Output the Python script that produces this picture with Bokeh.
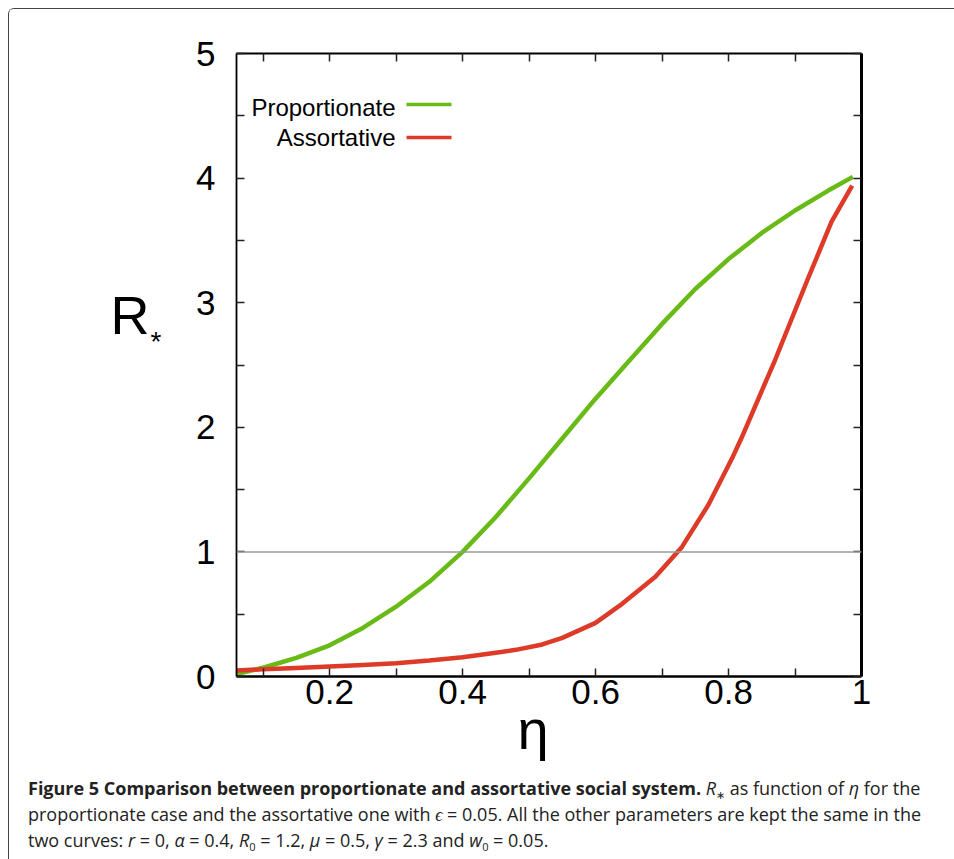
from bokeh.plotting import figure
from bokeh.models import (Range1d, LinearAxis, FixedTicker, Label, Span, Div)
from bokeh.layouts import column
from bokeh.embed import file_html
from bokeh.resources import INLINE

# ---- data ----
prop_eta = [0.06, 0.10, 0.15, 0.20, 0.25, 0.30, 0.35, 0.40, 0.45, 0.50,
            0.55, 0.60, 0.65, 0.70, 0.75, 0.80, 0.85, 0.90, 0.95, 0.987]
proportionate = [0.02, 0.07, 0.15, 0.25, 0.39, 0.56, 0.76, 1.00, 1.28, 1.59,
                 1.91, 2.23, 2.53, 2.83, 3.11, 3.35, 3.56, 3.74, 3.90, 4.01]
asso_eta = [0.06, 0.10, 0.15, 0.20, 0.25, 0.30, 0.35, 0.40, 0.45, 0.48, 0.52,
            0.55, 0.60, 0.64, 0.69, 0.73, 0.77, 0.805, 0.82, 0.87, 0.92, 0.955, 0.986]
assortative = [0.048, 0.058, 0.068, 0.080, 0.092, 0.107, 0.128, 0.155, 0.190, 0.214, 0.257,
               0.310, 0.430, 0.583, 0.800, 1.040, 1.380, 1.747, 1.920, 2.540, 3.200, 3.650, 3.940]
threshold = 1.0
x_major = [0.2, 0.4, 0.6, 0.8, 1.0]
x_minor = [0.1, 0.3, 0.5, 0.7, 0.9]
x_labels = ["0.2", "0.4", "0.6", "0.8", "1"]
y_major = [0, 1, 2, 3, 4, 5]
y_minor = [0.5, 1.5, 2.5, 3.5, 4.5]
series_names = ["Proportionate", "Assortative"]
x_title = "η"
GREEN = "#68BA16"
RED = "#DD3A28"

X0, X1, Y0, Y1 = 0.06, 1.0, 0.0, 5.0
FL, FR, FT, FB = 236, 861, 53, 676   # page pixel box of the plot frame
OX, OY = 9, 9                        # page position of the figure canvas


def dx(px):
    return X0 + (px - FL) * (X1 - X0) / (FR - FL)


def dy(py):
    return Y0 + (FB - py) * (Y1 - Y0) / (FB - FT)


W = 944
BOTTOM = 90
H = (FB - OY) + BOTTOM
p = figure(width=W, height=H, output_backend="svg", toolbar_location=None,
           x_range=Range1d(X0, X1), y_range=Range1d(Y0, Y1),
           min_border_left=FL - OX, min_border_right=W - (FR - OX),
           min_border_top=FT - OY, min_border_bottom=BOTTOM,
           background_fill_color="white", border_fill_color="white")
p.outline_line_color = None
p.grid.visible = False

TICKFONT = "Liberation Sans"


def style_axis(ax, lw):
    ax.axis_line_color = "black"
    ax.axis_line_width = lw
    ax.major_tick_in = 8
    ax.major_tick_out = 0
    ax.minor_tick_in = 8
    ax.minor_tick_out = 0
    ax.major_tick_line_color = "#222222"
    ax.minor_tick_line_color = "#222222"
    ax.major_tick_line_width = 1.5
    ax.minor_tick_line_width = 1.5
    ax.major_label_text_font = TICKFONT
    ax.major_label_text_font_size = "35px"
    ax.major_label_text_color = "black"


def text_axis(pos, text, size, standoff):
    ax = LinearAxis(ticker=FixedTicker(ticks=[pos], minor_ticks=[]))
    ax.major_label_overrides = {pos: text}
    ax.axis_line_color = None
    ax.major_tick_line_color = None
    ax.minor_tick_line_color = None
    ax.major_tick_in = 0
    ax.major_tick_out = 0
    ax.major_label_text_font = TICKFONT
    ax.major_label_text_font_size = size
    ax.major_label_text_color = "black"
    ax.major_label_standoff = standoff
    return ax


p.xaxis.ticker = FixedTicker(ticks=x_major, minor_ticks=x_minor)
p.yaxis.ticker = FixedTicker(ticks=y_major, minor_ticks=y_minor)
style_axis(p.xaxis[0], 2.5)
style_axis(p.yaxis[0], 1.8)
p.xaxis.major_label_overrides = {v: s for v, s in zip(x_major, x_labels)}
p.xaxis.major_label_standoff = 3
p.yaxis.major_label_standoff = 21

top = LinearAxis(ticker=FixedTicker(ticks=x_major, minor_ticks=x_minor))
top.major_label_overrides = {v: "" for v in x_major}
style_axis(top, 2.2)
p.add_layout(top, "above")
right = LinearAxis(ticker=FixedTicker(ticks=y_major, minor_ticks=y_minor))
right.major_label_overrides = {v: "" for v in y_major}
style_axis(right, 3)
p.add_layout(right, "right")

# axis titles drawn as single tick labels of extra axes (outside the frame)
p.add_layout(text_axis(dy(341), "*", "28px", 32), "left")
p.add_layout(text_axis(dy(314), "R", "54px", -2), "left")
p.add_layout(text_axis(dx(532.5), x_title, "56px", -9), "below")

# threshold line
p.add_layout(Span(location=threshold, dimension="width", line_color="#9a9a9a", line_width=1.5))

p.line(prop_eta, proportionate, line_color=GREEN, line_width=4.5, line_join="round")
p.line(asso_eta, assortative, line_color=RED, line_width=4.5, line_join="round")

# legend (text left of swatch, right aligned)
for name, col, ty, ly in [(series_names[0], GREEN, 107, 104), (series_names[1], RED, 137, 137)]:
    p.add_layout(Label(x=dx(395), y=dy(ty), text=name, text_align="right",
                       text_baseline="alphabetic", text_font=TICKFONT,
                       text_font_size="24px", text_color="black"))
    p.segment(x0=[dx(406)], y0=[dy(ly)], x1=[dx(451)], y1=[dy(ly)],
              line_color=col, line_width=3.5)

SUB = '<span style="font-size:11px; line-height:0; position:relative; top:4px;">'
caption_html = (
    '<div style="font-family:\'Open Sans\'; font-size:18px; line-height:26px; '
    'color:#222; white-space:nowrap; padding:4px 0 0 14px;">'
    '<b>Figure 5 Comparison between proportionate and assortative social system.</b> '
    '<i>R</i>' + SUB + '∗</span> as function of <i>η</i> for the<br>'
    'proportionate case and the assortative one with <i>ϵ</i> = 0.05. '
    'All the other parameters are kept the same in the<br>'
    'two curves: <i>r</i> = 0, <i>α</i> = 0.4, <i>R</i>' + SUB + '0</span> = 1.2, '
    '<i>μ</i> = 0.5, <i>γ</i> = 2.3 and <i>w</i>' + SUB + '0</span> = 0.05.'
    '</div>'
)
caption = Div(text=caption_html, width=W - 4, height=88)

root = column(p, caption, styles={
    "margin-left": "8px", "margin-top": "8px",
    "border-top": "1px solid #444", "border-left": "1px solid #444",
    "border-top-left-radius": "6px", "background-color": "white"})

open("out.html", "w").write(file_html(root, INLINE))
